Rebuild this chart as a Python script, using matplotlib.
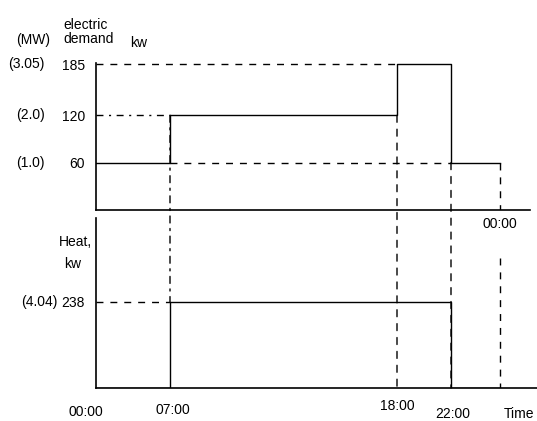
import numpy as np
import matplotlib
matplotlib.use('Agg')
import matplotlib.pyplot as plt
from matplotlib.patches import ConnectionPatch

plt.rcParams['font.family'] = ['Liberation Sans', 'DejaVu Sans']
plt.rcParams['font.size'] = 10

# data
hours = [0, 7, 18, 22, 24]
time_labels = ['00:00', '07:00', '18:00', '22:00', '00:00']
elec_kw = [60, 120, 185, 60]
elec_mw = ['(1.0)', '(2.0)', '(3.05)']
elec_levels = [60, 120, 185]
heat_kw = [0, 238, 238, 0]
heat_mw = '(4.04)'

# the time axis is a sketch, not to scale
sched_h = [0, 7, 18, 22, 24, 30]
sched_px = [0, 74, 301, 355, 404, 494]

def fwd(h):
    return np.interp(h, sched_h, sched_px)

def inv(p):
    return np.interp(p, sched_px, sched_h)

W, H = 537, 421
fig = plt.figure(figsize=(W / 100, H / 100), dpi=100)
ax1 = fig.add_axes([96 / W, 1 - 210 / H, 434 / W, 147 / H])
ax2 = fig.add_axes([96 / W, 1 - 388 / H, 441 / W, 170 / H])
ax2.patch.set_visible(False)

for ax in (ax1, ax2):
    ax.set_xscale('function', functions=(fwd, inv))
    for s in ('top', 'right'):
        ax.spines[s].set_visible(False)
    for s in ('left', 'bottom'):
        ax.spines[s].set_linewidth(1.2)
    ax.set_xticks([])
    ax.tick_params(axis='y', length=0, pad=8)

ax1.set_xlim(0, inv(434))
ax1.set_ylim(0, 186.3)
ax2.set_xlim(0, inv(441))
ax2.set_ylim(0, 470)

lw = 1.0
dash = (0, (5, 5))
dashdot = (0, (5, 4, 1.5, 4))

# electric demand
ax1.step(hours, elec_kw + [elec_kw[-1]], where='post', color='black', lw=lw)
ax1.plot([0, hours[2]], [elec_kw[2], elec_kw[2]], color='black', lw=lw, ls=dash)
ax1.plot([0, hours[1]], [elec_kw[1], elec_kw[1]], color='black', lw=lw, ls=dashdot)
ax1.plot([hours[1], hours[3]], [elec_kw[0], elec_kw[0]], color='black', lw=lw, ls=dash)
ax1.plot([hours[4], hours[4]], [elec_kw[3], 0], color='black', lw=lw, ls=dash)
ax1.set_yticks(elec_levels)
ax1.set_yticklabels([str(v) for v in elec_levels])
for lab, v in zip(elec_mw, elec_levels):
    ax1.annotate(lab, xy=(0, v), xycoords=('axes fraction', 'data'),
                 xytext=(-37, 0), textcoords='offset points', ha='right', va='center')

# heat
ax2.step(hours, heat_kw + [heat_kw[-1]], where='post', color='black', lw=lw)
ax2.plot([0, hours[1]], [heat_kw[1], heat_kw[1]], color='black', lw=lw, ls=dash)
ax2.plot([hours[4], hours[4]], [360, 0], color='black', lw=lw, ls=dash)
ax2.set_yticks([heat_kw[1]])
ax2.set_yticklabels([str(heat_kw[1])])
ax2.annotate(heat_mw, xy=(0, heat_kw[1]), xycoords=('axes fraction', 'data'),
             xytext=(-28, 0), textcoords='offset points', ha='right', va='center')

# vertical guide lines running through both panels
for h, ytop, ybot, ls in [(hours[1], elec_kw[1], heat_kw[1], dashdot),
                          (hours[2], elec_kw[1], 0, dash),
                          (hours[3], elec_kw[3], 0, dash)]:
    con = ConnectionPatch(xyA=(h, ytop), coordsA=ax1.transData,
                          xyB=(h, ybot), coordsB=ax2.transData,
                          color='black', lw=lw, ls=ls)
    fig.add_artist(con)

# labels
fig.text(33 / W, 1 - 40 / H, '(MW)', ha='center', va='center')
fig.text(63 / W, 1 - 32 / H, 'electric\ndemand', ha='left', va='center', linespacing=1.0)
fig.text(130 / W, 1 - 43 / H, 'kw', ha='left', va='center')
fig.text(92 / W, 1 - 242 / H, 'Heat,', ha='right', va='center')
fig.text(81 / W, 1 - 264 / H, 'kw', ha='right', va='center')

offs = [(-7, -12), (2, -11), (0, -8), (1, -14)]
for h, lab, (dx, dy) in zip(hours[:4], time_labels[:4], offs):
    ax2.annotate(lab, xy=(h, 0), xycoords='data', xytext=(dx, dy),
                 textcoords='offset points', ha='center', va='top')
ax1.annotate(time_labels[4], xy=(hours[4], 0), xycoords='data', xytext=(0, -5),
             textcoords='offset points', ha='center', va='top')
fig.text(534 / W, 1 - 414 / H, 'Time', ha='right', va='center')

fig.savefig('out.png', dpi=100)
